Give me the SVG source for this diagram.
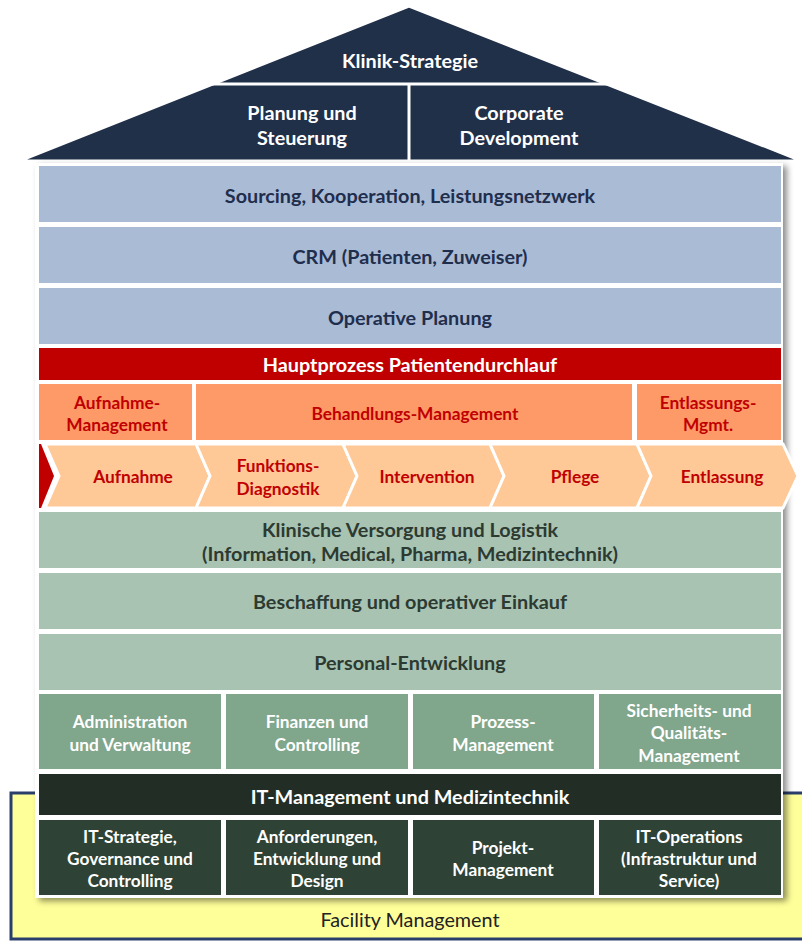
<svg xmlns="http://www.w3.org/2000/svg" width="802" height="941" viewBox="0 0 802 941">
<defs>
<filter id="sh" x="-10%" y="-10%" width="120%" height="120%">
<feDropShadow dx="4" dy="3" stdDeviation="3" flood-color="#000" flood-opacity="0.45"/>
</filter>
<style>
text{font-family:Lato,"Liberation Sans",sans-serif;font-weight:bold;font-size:17.3px;text-anchor:middle;dominant-baseline:central}
text.big{font-size:19.8px}
.roof{fill:#213049;stroke:#fff;stroke-width:3;stroke-linejoin:round}
.w{fill:#fff}
.blue{fill:#AABBD6}
.tb{fill:#1F2E4C}
.red{fill:#C00000}
.org{fill:#FE9A68}
.tr{fill:#C00000}
.chev{fill:#FFC897;stroke:#fff;stroke-width:3;stroke-linejoin:miter}
.g1{fill:#A8C3B2}
.tg{fill:#2C3A31}
.g2{fill:#80A68C}
.d1{fill:#222E25}
.d2{fill:#2E4336}
</style>
</defs>

<g id="facility">
<rect x="11" y="793" width="800" height="146" fill="#FFFF99" stroke="#2B3E6B" stroke-width="3"/>
<text x="410" y="919" class="big" style="font-weight:normal;fill:#222">Facility Management</text>
</g>

<g id="roof">
<polygon class="roof" points="409,6 802,161 19,161"/>
<line x1="212" y1="84" x2="607" y2="84" stroke="#fff" stroke-width="3"/>
<line x1="409" y1="84" x2="409" y2="162" stroke="#fff" stroke-width="3"/>
<text x="410" y="60" class="w big">Klinik-Strategie</text>
<text x="302" y="112" class="w big">Planung und</text>
<text x="302" y="137" class="w big">Steuerung</text>
<text x="519" y="112" class="w big">Corporate</text>
<text x="519" y="137" class="w big">Development</text>
</g>

<rect x="35" y="163" width="748" height="735" fill="#fff" filter="url(#sh)"/>

<g id="sourcing"><rect x="39" y="166" width="742" height="56" class="blue"/><text x="410" y="195" class="tb big">Sourcing, Kooperation, Leistungsnetzwerk</text></g>
<g id="crm"><rect x="39" y="227" width="742" height="56" class="blue"/><text x="410" y="256" class="tb big">CRM (Patienten, Zuweiser)</text></g>
<g id="operative"><rect x="39" y="288" width="742" height="56" class="blue"/><text x="410" y="317" class="tb big">Operative Planung</text></g>
<g id="hauptprozess"><rect x="39" y="348" width="742" height="32" class="red"/><text x="410" y="364" class="w big">Hauptprozess Patientendurchlauf</text></g>

<g id="aufnahme-mgmt"><rect x="39" y="384" width="153" height="56" class="org"/><text x="117" y="402" class="tr">Aufnahme-</text><text x="117" y="424" class="tr">Management</text></g>
<g id="behandlung"><rect x="196" y="384" width="436" height="56" class="org"/><text x="415" y="413" class="tr">Behandlungs-Management</text></g>
<g id="entlassung-mgmt"><rect x="637" y="384" width="144" height="56" class="org"/><text x="708" y="402" class="tr">Entlassungs-</text><text x="708" y="424" class="tr">Mgmt.</text></g>

<g id="start"><polygon points="39,444 41,444 54,476 41,508 39,508" class="red"/></g>
<g id="c-aufnahme"><polygon class="chev" points="45,444 196,444 210,476 196,508 45,508 59,476"/><text x="133" y="476" class="tr">Aufnahme</text></g>
<g id="c-funktion"><polygon class="chev" points="196,444 343,444 357,476 343,508 196,508 210,476"/><text x="278" y="465" class="tr">Funktions-</text><text x="278" y="488" class="tr">Diagnostik</text></g>
<g id="c-intervention"><polygon class="chev" points="343,444 490,444 504,476 490,508 343,508 357,476"/><text x="427" y="476" class="tr">Intervention</text></g>
<g id="c-pflege"><polygon class="chev" points="490,444 637,444 651,476 637,508 490,508 504,476"/><text x="575" y="476" class="tr">Pflege</text></g>
<g id="c-entlassung"><polygon class="chev" points="637,444 783,444 798,476 783,508 637,508 651,476"/><text x="722" y="476" class="tr">Entlassung</text></g>

<g id="klinische"><rect x="39" y="512" width="742" height="56" class="g1"/><text x="410" y="529" class="tg big">Klinische Versorgung und Logistik</text><text x="410" y="553" class="tg big">(Information, Medical, Pharma, Medizintechnik)</text></g>
<g id="beschaffung"><rect x="39" y="573" width="742" height="56" class="g1"/><text x="410" y="601" class="tg big">Beschaffung und operativer Einkauf</text></g>
<g id="personal"><rect x="39" y="634" width="742" height="56" class="g1"/><text x="410" y="662" class="tg big">Personal-Entwicklung</text></g>

<g id="admin"><rect x="39" y="694" width="182" height="75" class="g2"/><text x="130" y="721" class="w">Administration</text><text x="130" y="744" class="w">und Verwaltung</text></g>
<g id="finanzen"><rect x="226" y="694" width="182" height="75" class="g2"/><text x="317" y="721" class="w">Finanzen und</text><text x="317" y="744" class="w">Controlling</text></g>
<g id="prozess"><rect x="413" y="694" width="181" height="75" class="g2"/><text x="503" y="721" class="w">Prozess-</text><text x="503" y="744" class="w">Management</text></g>
<g id="sicherheit"><rect x="599" y="694" width="182" height="75" class="g2"/><text x="689" y="710" class="w">Sicherheits- und</text><text x="689" y="732" class="w">Qualitäts-</text><text x="689" y="755" class="w">Management</text></g>

<g id="it-mgmt"><rect x="39" y="774" width="742" height="41" class="d1"/><text x="410" y="796" class="w big">IT-Management und Medizintechnik</text></g>

<g id="it-strategie"><rect x="39" y="820" width="182" height="75" class="d2"/><text x="130" y="836" class="w">IT-Strategie,</text><text x="130" y="858" class="w">Governance und</text><text x="130" y="880" class="w">Controlling</text></g>
<g id="anforderungen"><rect x="226" y="820" width="182" height="75" class="d2"/><text x="317" y="836" class="w">Anforderungen,</text><text x="317" y="858" class="w">Entwicklung und</text><text x="317" y="880" class="w">Design</text></g>
<g id="projekt"><rect x="413" y="820" width="181" height="75" class="d2"/><text x="503" y="847" class="w">Projekt-</text><text x="503" y="869" class="w">Management</text></g>
<g id="it-operations"><rect x="599" y="820" width="182" height="75" class="d2"/><text x="689" y="836" class="w">IT-Operations</text><text x="689" y="858" class="w">(Infrastruktur und</text><text x="689" y="880" class="w">Service)</text></g>

<g id="connectors"></g>
</svg>
